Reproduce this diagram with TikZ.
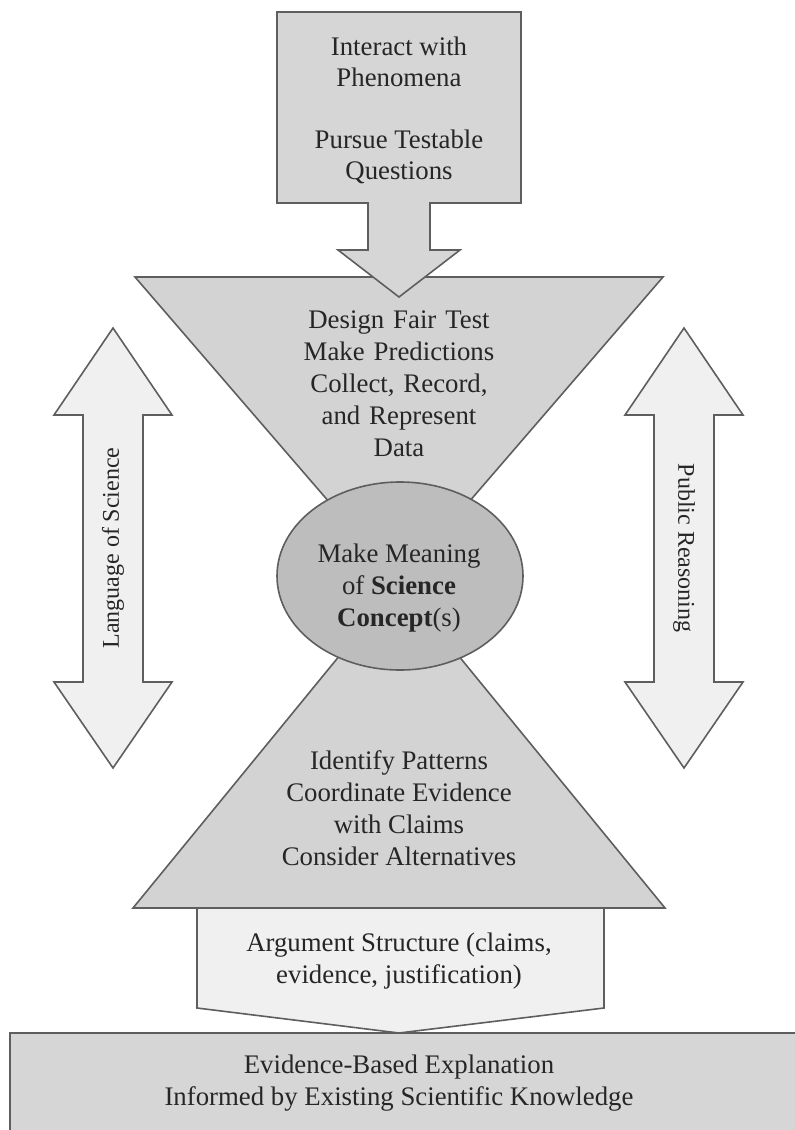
\documentclass[tikz,border=0pt]{standalone}
\usepackage{fontspec}
\setmainfont{Liberation Serif}
\usepackage{tikz}
\usetikzlibrary{calc}
\usetikzlibrary{positioning}

\definecolor{edgegray}{HTML}{5E5E5E}
\definecolor{boxgray}{HTML}{D6D6D6}
\definecolor{conegray}{HTML}{D3D3D3}
\definecolor{coregray}{HTML}{BDBDBD}
\definecolor{palegray}{HTML}{F0F0F0}
\definecolor{inkgray}{HTML}{262626}

\tikzset{
  panel/.style = {draw=edgegray, line width=0.8pt, line join=miter},
  words/.style = {align=center, text=inkgray, inner sep=0pt,
                  font=\fontsize{13.4}{16}\selectfont},
  sidewords/.style = {words, font=\fontsize{12}{14}\selectfont},
}

\begin{document}
\begin{tikzpicture}[x=0.5pt, y=-0.5pt]
\useasboundingbox (0,0) rectangle (795,1130);
\clip (0,0) rectangle (795,1130);

% Define coordinates
\coordinate (hub) at (399,583); % where both cones meet

% Bottom explanation bar
\draw[panel, fill=boxgray] (10,1033) rectangle (820,1150);

% Upper cone (inverted triangle)
\draw[panel, fill=conegray] (135,277) -- (663,277) -- (hub) -- cycle;
% Lower cone
\draw[panel, fill=conegray] (133,908) -- (665,908) -- (hub) -- cycle;

% Argument structure block with chevron bottom
\draw[panel, fill=palegray] (197,908) -- (604,908) -- (604,1008)
  -- (399,1033) -- (197,1008) -- cycle;

% Top box with arrow into upper cone
\draw[panel, fill=boxgray] (277,12) -- (521,12) -- (521,203) -- (430,203)
  -- (430,250) -- (460,250) -- (399,297) -- (338,250) -- (368,250)
  -- (368,203) -- (277,203) -- cycle;

% Double arrows on both sides
\foreach \cx/\nm in {113/left, 684/right}{
  \draw[panel, fill=palegray] (\cx,328) -- (\cx+59,415) -- (\cx+30,415)
    -- (\cx+30,682) -- (\cx+59,682) -- (\cx,768) -- (\cx-59,682)
    -- (\cx-30,682) -- (\cx-30,415) -- (\cx-59,415) -- cycle;
}

% Central ellipse
\draw[panel, fill=coregray] (400,576) ellipse [x radius=123, y radius=94];

% Labels
\node[words] (phen) at (399,62) {Interact with\\[-0.5pt]Phenomena};
\node[words] (quest) at (399,157) {Pursue Testable\\[-0.5pt]Questions};
\node[words, text width=110pt] (design) at (399,384)
  {Design Fair Test\\Make Predictions\\Collect, Record,\\and Represent\\Data};
\node[words] (meaning) at (399,588)
  {Make Meaning\\of \textbf{Science}\\\textbf{Concept}(s)};
\node[words] (patterns) at (399,808)
  {Identify Patterns\\Coordinate Evidence\\with Claims\\Consider Alternatives};
\node[words] (argue) at (399,961)
  {Argument Structure (claims,\\evidence, justification)};
\node[words] (explain) at (399,1083)
  {Evidence-Based Explanation\\Informed by Existing Scientific Knowledge};
\node[sidewords, rotate=90] (lang) at (113,548) {Language of Science};
\node[sidewords, rotate=-90] (public) at (684,548) {Public Reasoning};

\end{tikzpicture}
\end{document}
